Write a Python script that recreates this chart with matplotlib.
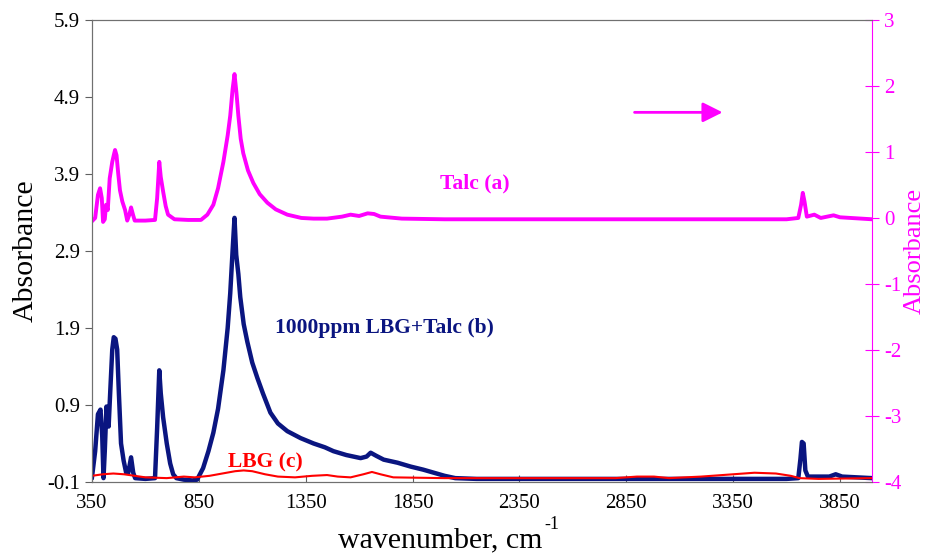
import matplotlib
matplotlib.use("Agg")
import matplotlib.pyplot as plt

plt.rcParams["font.family"] = ["Liberation Serif", "DejaVu Serif"]
plt.rcParams["axes.unicode_minus"] = False

# 1000ppm LBG + Talc (b), left axis
blue_wn = [350, 365, 378, 390, 398, 404, 410, 418, 428, 436, 445, 452, 460,
           468, 476, 486, 498, 510, 520, 533, 543, 552, 600, 645, 655, 665,
           672, 683, 700, 716, 730, 745, 780, 820, 842, 870, 895, 918, 940,
           965, 985, 997, 1008, 1017, 1025, 1035, 1044, 1060, 1077, 1100,
           1124, 1150, 1185, 1220, 1264, 1326, 1387, 1440, 1480, 1540, 1607,
           1635, 1654, 1680, 1715, 1780, 1841, 1900, 1950, 2000, 2050, 2150,
           2400, 2700, 3000, 3300, 3600, 3655, 3665, 3672, 3680, 3688, 3700,
           3800, 3830, 3860, 4000]
blue_abs = [-0.04, 0.30, 0.78, 0.84, 0.50, -0.05, 0.30, 0.88, 0.62, 1.10,
            1.62, 1.78, 1.76, 1.62, 1.05, 0.40, 0.18, 0.02, 0.02, 0.22, 0.02,
            -0.05, -0.06, -0.05, 0.60, 1.35, 1.05, 0.74, 0.40, 0.14, 0.00,
            -0.05, -0.07, -0.08, -0.07, 0.08, 0.30, 0.54, 0.85, 1.35, 1.90,
            2.35, 2.90, 3.33, 2.85, 2.60, 2.30, 1.95, 1.72, 1.45, 1.25, 1.05,
            0.80, 0.66, 0.56, 0.47, 0.40, 0.35, 0.30, 0.25, 0.21, 0.23, 0.28,
            0.24, 0.19, 0.15, 0.10, 0.06, 0.02, -0.02, -0.05, -0.06, -0.06,
            -0.06, -0.06, -0.06, -0.06, -0.05, 0.20, 0.42, 0.40, 0.05, -0.03,
            -0.03, 0.00, -0.03, -0.05]

# LBG (c), left axis
red_wn = [350, 400, 450, 500, 550, 600, 700, 780, 830, 900, 960, 1020, 1060,
          1100, 1160, 1220, 1300, 1380, 1450, 1500, 1560, 1620, 1660, 1700,
          1760, 2000, 2500, 2800, 2900, 2980, 3050, 3200, 3350, 3450, 3550,
          3620, 3660, 3750, 4000]
red_abs = [-0.02, 0.00, 0.01, 0.00, -0.02, -0.04, -0.05, -0.03, -0.04, -0.02,
           0.01, 0.04, 0.05, 0.04, 0.00, -0.03, -0.04, -0.02, -0.01, -0.03,
           -0.04, 0.00, 0.03, 0.00, -0.04, -0.05, -0.05, -0.05, -0.03, -0.03,
           -0.05, -0.03, 0.00, 0.02, 0.01, -0.02, -0.05, -0.06, -0.05]

# Talc (a), right axis
pink_wn = [350, 365, 378, 388, 396, 402, 410, 416, 424, 433, 445, 452, 458,
           465, 473, 481, 492, 505, 515, 525, 533, 542, 550, 600, 645, 655,
           665, 672, 683, 695, 706, 736, 800, 860, 890, 918, 940, 965, 985,
           997, 1008, 1017, 1026, 1035, 1046, 1058, 1080, 1105, 1135, 1171,
           1210, 1264, 1330, 1387, 1450, 1520, 1560, 1600, 1640, 1670, 1700,
           1800, 2000, 3000, 3600, 3655, 3668, 3676, 3684, 3695, 3730, 3760,
           3820, 3850, 4000]
pink_abs = [-0.05, 0.00, 0.35, 0.45, 0.30, -0.06, -0.02, 0.20, 0.12, 0.60,
            0.85, 0.95, 1.03, 0.95, 0.67, 0.42, 0.25, 0.12, -0.04, 0.05, 0.16,
            0.05, -0.04, -0.04, -0.03, 0.30, 0.85, 0.62, 0.40, 0.18, 0.05,
            -0.02, -0.03, -0.03, 0.05, 0.20, 0.45, 0.85, 1.25, 1.55, 1.95,
            2.18, 1.90, 1.55, 1.20, 0.98, 0.72, 0.53, 0.36, 0.23, 0.13, 0.05,
            0.00, -0.01, -0.01, 0.02, 0.05, 0.03, 0.07, 0.06, 0.02, -0.01,
            -0.02, -0.02, -0.02, 0.00, 0.20, 0.38, 0.25, 0.02, 0.05, 0.00,
            0.04, 0.01, -0.02]

x_ticks = [350, 850, 1350, 1850, 2350, 2850, 3350, 3850]
left_ticks = [-0.1, 0.9, 1.9, 2.9, 3.9, 4.9, 5.9]
right_ticks = [-4, -3, -2, -1, 0, 1, 2, 3]

navy = "#0a1580"
magenta = "#ff00ff"
red = "#ff0000"

fig = plt.figure(figsize=(9.27, 5.54), dpi=100)
ax = fig.add_axes([0.0992, 0.130, 0.8415, 0.834])
ax2 = ax.twinx()

ax.plot(blue_wn, blue_abs, color=navy, lw=3.2, zorder=3)
ax.plot(red_wn, red_abs, color=red, lw=1.5, zorder=4)
ax2.plot(pink_wn, pink_abs, color=magenta, lw=2.8)

ax.set_xlim(350, 4000)
ax.set_ylim(-0.1, 5.9)
ax2.set_ylim(-4, 3)
ax.set_xticks(x_ticks)
ax.set_yticks(left_ticks)
ax.set_yticklabels([f"{t:.1f}" for t in left_ticks])
ax2.set_yticks(right_ticks)

ax.tick_params(axis="x", direction="in", length=5, labelsize=15, pad=9,
               color="#606060")
ax.tick_params(axis="y", direction="out", length=5, labelsize=15,
               color="#606060")
ax2.tick_params(axis="y", direction="inout", length=10, labelsize=15,
                colors=magenta)

for s in ["left", "bottom", "top"]:
    ax.spines[s].set_color("#707070")
    ax2.spines[s].set_color("#707070")
ax2.spines["right"].set_color(magenta)
ax.spines["right"].set_visible(False)

# x label with a plain hyphen in the superscript
ax.set_xlabel("wavenumber, cm", fontsize=21.5)
ax.xaxis.set_label_coords(0.446, -0.098)
fig.text(544 / 927, 1 - 533 / 554, "-1", fontsize=13, va="bottom")
ax.set_ylabel("Absorbance", fontsize=21.5, labelpad=6)
ax2.set_ylabel("Absorbance", fontsize=19, color=magenta, rotation=90,
               labelpad=2)

ax.text(0.446, 0.645, "Talc (a)", transform=ax.transAxes, color=magenta,
        fontsize=15.5, fontweight="bold", va="center")
ax.text(0.235, 0.334, "1000ppm LBG+Talc (b)", transform=ax.transAxes,
        color=navy, fontsize=15.5, fontweight="bold", va="center")
ax.text(0.174, 0.043, "LBG (c)", transform=ax.transAxes, color=red,
        fontsize=15.5, fontweight="bold", va="center")

ax.annotate("", xy=(0.812, 0.80), xytext=(0.692, 0.80),
            xycoords="axes fraction",
            arrowprops=dict(arrowstyle="-|>", color=magenta, lw=2,
                            mutation_scale=30))

fig.savefig("out.png", dpi=100)
